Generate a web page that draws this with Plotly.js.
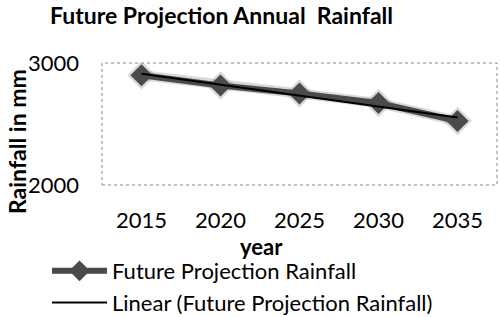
<!DOCTYPE html>
<html>
<head>
<meta charset="utf-8">
<script src="https://cdn.plot.ly/plotly-3.0.1.min.js"></script>
<style>html,body{margin:0;padding:0;background:#fff}#chart{width:500px;height:317px}</style>
</head>
<body>
<div id="chart"></div>
<script>
var years = ["2015", "2020", "2025", "2030", "2035"];
var rainfall = [2900, 2815, 2750, 2672, 2525];
var yTicks = [2000, 3000];

// linear trendline (least squares on category index)
var n = rainfall.length, sx = 0, sy = 0, sxx = 0, sxy = 0;
for (var i = 0; i < n; i++) { sx += i; sy += rainfall[i]; sxx += i * i; sxy += i * rainfall[i]; }
var slope = (n * sxy - sx * sy) / (n * sxx - sx * sx);
var icpt = (sy - slope * sx) / n;
var trend = rainfall.map(function (_, i) { return icpt + slope * i; });

var FONT = "Lato, 'Open Sans', sans-serif";
var L = 102, R = 3, T = 63, B = 132, W = 500, H = 317;
var pw = W - L - R, ph = H - T - B;
function px(x) { return (x - L) / pw; }
function py(y) { return (H - B - y) / ph; }

var traces = [
  { x: years, y: rainfall, type: "scatter", mode: "lines+markers", showlegend: false, hoverinfo: "skip",
    line: { color: "rgba(160,160,160,0.4)", width: 10 },
    marker: { symbol: "diamond", size: 22, color: "rgba(160,160,160,0.4)" } },
  { x: years, y: rainfall, type: "scatter", mode: "lines+markers", name: "Future Projection Rainfall",
    line: { color: "#4a4a4a", width: 6 },
    marker: { symbol: "diamond", size: 17, color: "#4a4a4a" } },
  { x: years, y: trend, type: "scatter", mode: "lines", name: "Linear (Future Projection Rainfall)",
    line: { color: "#000000", width: 2 } }
];

var layout = {
  width: W, height: H,
  margin: { l: L, r: R, t: T, b: B, autoexpand: false },
  paper_bgcolor: "#fff", plot_bgcolor: "#fff",
  font: { family: FONT, size: 22, color: "#000" },
  showlegend: true,
  xaxis: { type: "category", range: [-0.5, 4.5], showgrid: false, zeroline: false, showline: false,
    automargin: false, ticks: "", ticklabelstandoff: 20, tickfont: { family: FONT, size: 22 } },
  yaxis: { range: [2000, 3000], tickvals: yTicks, ticktext: yTicks.map(String), showgrid: false,
    automargin: false, zeroline: false, showline: false, ticks: "", ticklabelstandoff: 22,
    tickfont: { family: FONT, size: 22 } },
  legend: { x: px(47), y: py(250), xanchor: "left", yanchor: "top", bgcolor: "rgba(0,0,0,0)",
    itemwidth: 55, font: { family: FONT, size: 22 }, tracegroupgap: 0 },
  shapes: [{ type: "rect", xref: "paper", yref: "paper", x0: 0, x1: 1, y0: 0, y1: 1,
    line: { color: "#8a8a8a", width: 1, dash: "dot" } }],
  annotations: [
    { text: "<b>Future Projection Annual  Rainfall</b>", xref: "paper", yref: "paper",
      x: px(221), y: py(15), xanchor: "center", yanchor: "middle", showarrow: false,
      font: { family: FONT, size: 23 } },
    { text: "<b>Rainfall in mm</b>", xref: "paper", yref: "paper", textangle: -90,
      x: px(17), y: py(142), xanchor: "center", yanchor: "middle", showarrow: false,
      font: { family: FONT, size: 23 } },
    { text: "<b>year</b>", xref: "paper", yref: "paper",
      x: px(261), y: py(246), xanchor: "center", yanchor: "middle", showarrow: false,
      font: { family: FONT, size: 22 } }
  ]
};

Plotly.newPlot("chart", traces, layout, { displayModeBar: false, staticPlot: true });
</script>
</body>
</html>
